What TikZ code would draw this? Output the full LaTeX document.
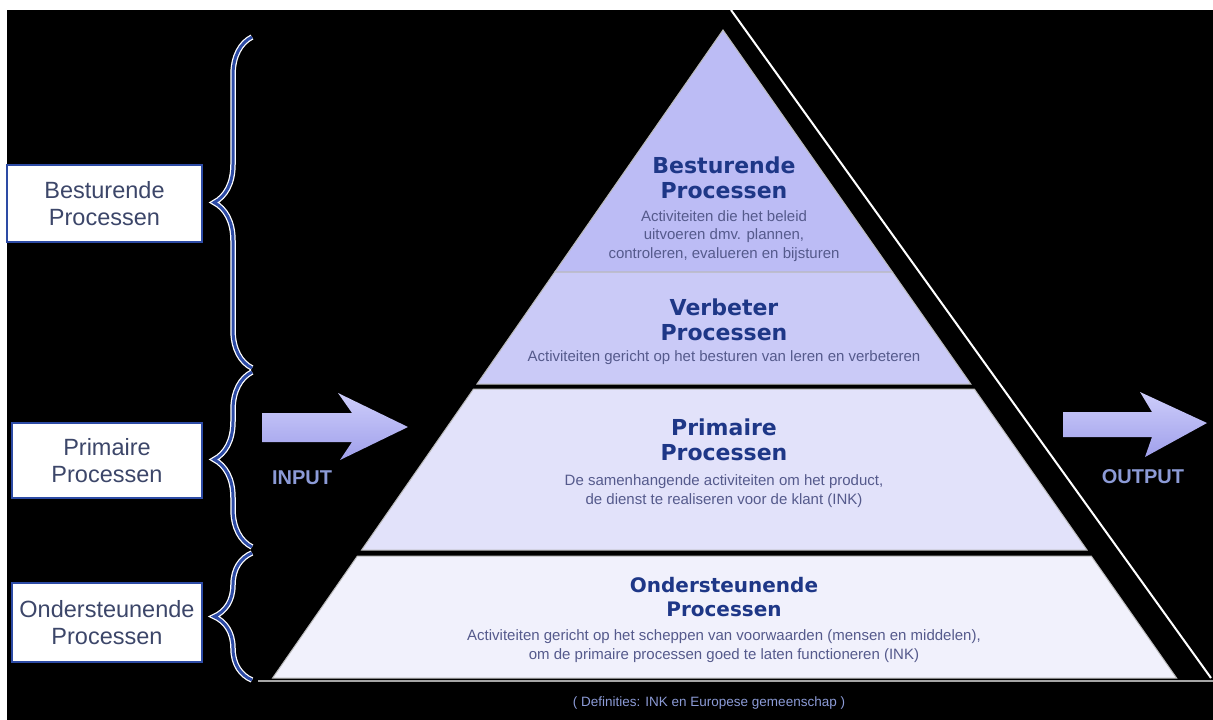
\documentclass[tikz,border=0pt]{standalone}
\usepackage{fontspec}
\setmainfont{Liberation Sans}
\newfontfamily\kopfont{DejaVu Sans}
\usetikzlibrary{decorations.pathreplacing}
\definecolor{lavtop}{RGB}{188,188,245}
\definecolor{lavver}{RGB}{202,202,247}
\definecolor{lavprim}{RGB}{226,226,250}
\definecolor{lavond}{RGB}{241,241,252}
\definecolor{kopblauw}{RGB}{30,55,135}
\definecolor{uitleggrijs}{RGB}{85,90,140}
\definecolor{kaderblauw}{RGB}{45,75,165}
\definecolor{kadertekst}{RGB}{60,70,105}
\definecolor{pijllicht}{RGB}{205,205,250}
\definecolor{pijldonker}{RGB}{160,160,235}
\definecolor{pijlletter}{RGB}{140,155,215}
\tikzset{
	laag/.style={draw=gray!55, line width=1pt},
	kop/.style={text=kopblauw, font=\kopfont\bfseries\fontsize{22}{25}\selectfont, align=center},
	kopklein/.style={text=kopblauw, font=\kopfont\bfseries\fontsize{20}{24}\selectfont, align=center},
	uitleg/.style={text=uitleggrijs, font=\fontsize{15}{18.5}\selectfont, align=center},
	kader/.style={draw=kaderblauw, fill=white, line width=2.5pt},
	zijtekst/.style={text=kadertekst, font=\fontsize{23.5}{27}\selectfont, align=center},
	klemwit/.style={decorate, decoration={brace, amplitude=38pt}, draw=white, line width=5.5pt},
	klem/.style={decorate, decoration={brace, amplitude=38pt}, draw=kaderblauw, line width=3pt},
	pijl/.style={top color=pijllicht, bottom color=pijldonker},
	pijltekst/.style={text=pijlletter, font=\bfseries\fontsize{20}{22}\selectfont},
	bron/.style={text=pijlletter, font=\fontsize{13.5}{15}\selectfont}
}
\begin{document}
\begin{tikzpicture}[x=1pt, y=-1pt]
	\useasboundingbox (0,0) rectangle (1213,720);
	\fill[white] (0,0) rectangle (1213,720);
	\fill[black] (7,10) rectangle (1213,720);
	\draw[white, line width=2pt] (731,10) -- (1211,678);
	\draw[gray!70, line width=1.5pt] (258,681) -- (1213,681);
	\filldraw[laag, fill=lavtop] (723,30) -- (892.4,272) -- (554.8,272) -- cycle;
	\filldraw[laag, fill=lavver] (554.8,272) -- (892.4,272) -- (970.8,384) -- (477,384) -- cycle;
	\filldraw[laag, fill=lavprim] (473.5,389) -- (974.3,389) -- (1087,550) -- (361.6,550) -- cycle;
	\filldraw[laag, fill=lavond] (357.4,556) -- (1091.2,556) -- (1176.6,678) -- (272.6,678) -- cycle;
	\node[kop] (besttitel) at (724,177.5) {Besturende\\Processen};
	\node[uitleg] (bestuitleg) at (724,236) {Activiteiten die het beleid\\uitvoeren dmv. plannen,\\controleren, evalueren en bijsturen};
	\node[kop] (vertitel) at (724,320) {Verbeter\\Processen};
	\node[uitleg] (veruitleg) at (724,358) {Activiteiten gericht op het besturen van leren en verbeteren};
	\node[kop] (primtitel) at (724,440) {Primaire\\Processen};
	\node[uitleg] (primuitleg) at (724,491) {De samenhangende activiteiten om het product,\\de dienst te realiseren voor de klant (INK)};
	\node[kopklein] (ondtitel) at (724,597.5) {Ondersteunende\\Processen};
	\node[uitleg] (onduitleg) at (724,646) {Activiteiten gericht op het scheppen van voorwaarden (mensen en middelen),\\om de primaire processen goed te laten functioneren (INK)};
	\draw[kader] (7,165) rectangle node[zijtekst] (bestkader) {Besturende\\Processen} (202,242);
	\draw[kader] (12,423) rectangle node[zijtekst] (primkader) {Primaire\\Processen} (202,498);
	\draw[kader] (12,583) rectangle node[zijtekst] (ondkader) {Ondersteunende\\Processen} (202,662);
	\draw[klemwit] (252,368) -- (252,37);
	\draw[klem] (252,368) -- (252,37);
	\draw[klemwit] (252,547) -- (252,372);
	\draw[klem] (252,547) -- (252,372);
	\draw[klemwit] (252,680) -- (252,553);
	\draw[klem] (252,680) -- (252,553);
	\shade[pijl] (262,413) -- (352,413) -- (338,393) -- (408,427) -- (340,460) -- (352,442) -- (262,442) -- cycle;
	\node[pijltekst] (invoer) at (302,478) {INPUT};
	\shade[pijl] (1063,412) -- (1152,412) -- (1140,392) -- (1207,423) -- (1145,457) -- (1152,437) -- (1063,437) -- cycle;
	\node[pijltekst] (uitvoer) at (1143,477) {OUTPUT};
	\node[bron] (bron) at (709,703) {( Definities: INK en Europese gemeenschap )};
\end{tikzpicture}
\end{document}
